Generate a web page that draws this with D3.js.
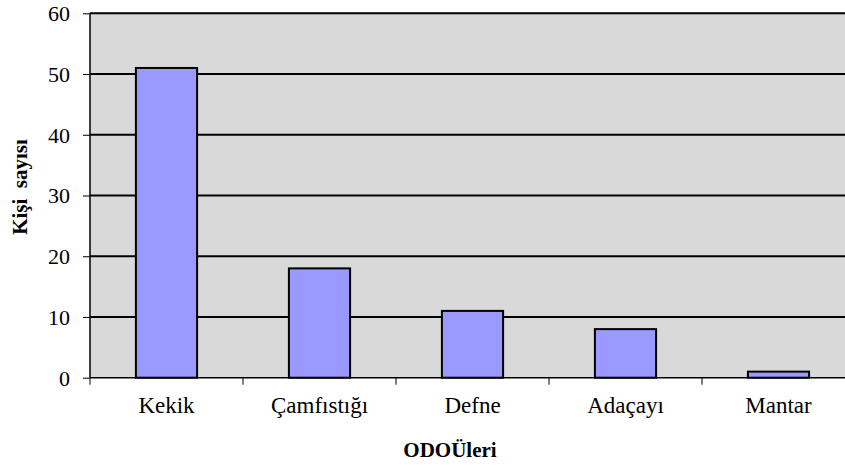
<!DOCTYPE html>
<html><head><meta charset="utf-8">
<script src="https://cdn.jsdelivr.net/npm/d3@7"></script>
<style>body{margin:0;background:#fff}svg{display:block}svg text{font-family:"Liberation Serif","Times New Roman","DejaVu Serif",serif !important}</style>
</head><body>
<svg id="c" width="845" height="468"></svg>
<script>
const categories = ["Kekik", "Çamfıstığı", "Defne", "Adaçayı", "Mantar"];
const values = [51, 18, 11, 8, 1];
const yTicks = [0, 10, 20, 30, 40, 50, 60];
const yTitle = "Kişi  sayısı";
const xTitle = "ODOÜleri";

const svg = d3.select("#c");
const L = 90, T = 13.3, B = 377.7, band = 153;
const x = d3.scaleBand().domain(categories).range([L, L + band * categories.length]).paddingInner(0).paddingOuter(0);
const y = d3.scaleLinear().domain([0, 60]).range([B, T]);

svg.append("rect").attr("x", L).attr("y", T).attr("width", x.range()[1] - L).attr("height", B - T).attr("fill", "#d9d9d9");

// gridlines
svg.append("g").selectAll("line").data(yTicks.filter(d => d > 0)).join("line")
  .attr("x1", L).attr("x2", x.range()[1]).attr("y1", d => y(d)).attr("y2", d => y(d))
  .attr("stroke", "#000").attr("stroke-width", 2);

// bars
const bw = band * 0.4;
svg.append("g").selectAll("rect").data(values).join("rect")
  .attr("x", (d, i) => x(categories[i]) + (band - bw) / 2)
  .attr("y", d => y(d)).attr("width", bw).attr("height", d => y(0) - y(d))
  .attr("fill", "#9999ff").attr("stroke", "#000").attr("stroke-width", 2);

// y axis
const ya = svg.append("g").attr("transform", `translate(${L},0)`)
  .call(d3.axisLeft(y).tickValues(yTicks).tickSize(7).tickPadding(13));
ya.attr("font-family", null);
ya.select(".domain").attr("stroke", "#000").attr("stroke-width", 1.5).attr("d", `M0,${T}V${B}`);
ya.selectAll(".tick line").attr("stroke", "#000").attr("stroke-width", 1);
ya.selectAll("text").style("font-size", "22px").attr("fill", "#000").attr("dy", "0.34em");

// x axis
const xa = svg.append("g").attr("transform", `translate(0,${B})`)
  .call(d3.axisBottom(x).tickSize(0).tickPadding(0));
xa.attr("font-family", null);
xa.select(".domain").remove();
xa.selectAll("text").style("font-size", "23px").attr("fill", "#000").attr("dy", null).attr("y", 35);
svg.append("line").attr("x1", L).attr("x2", x.range()[1]).attr("y1", B).attr("y2", B).attr("stroke", "#000").attr("stroke-width", 1.5);
svg.append("g").selectAll("line").data(d3.range(categories.length + 1)).join("line")
  .attr("x1", i => L + i * band).attr("x2", i => L + i * band)
  .attr("y1", B).attr("y2", B + 7).attr("stroke", "#000").attr("stroke-width", 1);

// titles
svg.append("text").attr("transform", `translate(27,187) rotate(-90)`)
  .attr("text-anchor", "middle").style("font-size", "21px").attr("font-weight", "bold")
  .style("white-space", "pre").attr("xml:space", "preserve").text(yTitle);
svg.append("text").attr("x", 450).attr("y", 457).attr("text-anchor", "middle")
  .style("font-size", "21px").attr("font-weight", "bold").text(xTitle);
</script>
</body></html>
